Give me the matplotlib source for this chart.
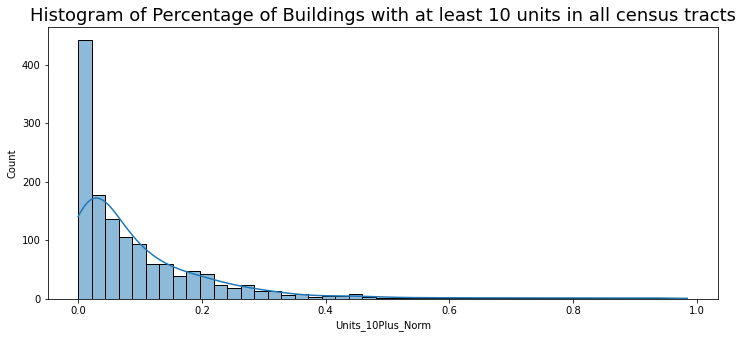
import numpy as np
import pandas as pd
import matplotlib
matplotlib.use("Agg")
import matplotlib.pyplot as plt
import seaborn as sns

# Histogram data (45 bins between 0 and 0.985)
x_min = 0.0
x_max = 0.985
n_bins = 45
counts = [442, 177, 136, 105, 93, 59, 60, 38, 47, 42,
          23, 19, 23, 14, 13, 6, 8, 3, 4, 4,
          8, 3, 2, 2, 2, 1, 2, 2, 1, 1,
          2, 1, 2, 1, 1, 2, 1, 1, 1, 1,
          1, 1, 2, 1, 1]

title = "Histogram of Percentage of Buildings with at least 10 units in all census tracts"
xlabel = "Units_10Plus_Norm"
ylabel = "Count"

edges = np.linspace(x_min, x_max, n_bins + 1)
centers = (edges[:-1] + edges[1:]) / 2
# one observation per counted tract, placed at its bin centre
df = pd.DataFrame({xlabel: np.repeat(centers, counts)})

W, H, DPI = 742, 338, 72
fig = plt.figure(figsize=(W / DPI, H / DPI), dpi=DPI)
ax = fig.add_axes([47.7 / W, (H - 298.7) / H, 670 / W, 271.4 / H])

sns.histplot(data=df, x=xlabel, bins=list(edges), kde=True, ax=ax,
             kde_kws={"clip": (x_min, x_max), "cut": 1, "bw_adjust": 1.2})
ax.set_xlim(x_min - 0.05 * (x_max - x_min), x_max + 0.05 * (x_max - x_min))
ax.set_title(title, fontsize=18)
ax.set_xlabel(xlabel, fontsize=10)
ax.set_ylabel(ylabel, fontsize=10)
ax.tick_params(labelsize=10)

fig.savefig("out.png", dpi=DPI)
